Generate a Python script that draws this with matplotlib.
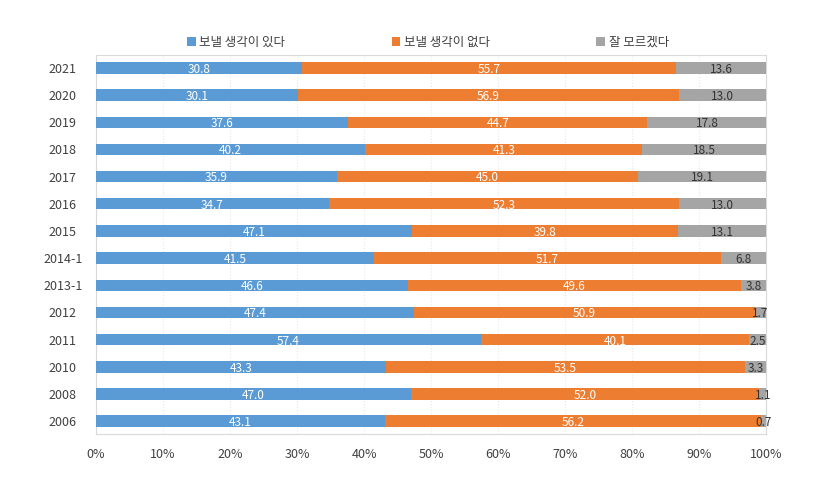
import numpy as np
import matplotlib
matplotlib.use("Agg")
import matplotlib.pyplot as plt
from matplotlib.patches import Patch

plt.rcParams['font.family'] = ['Noto Sans CJK KR', 'DejaVu Sans']

years = ["2021", "2020", "2019", "2018", "2017", "2016", "2015",
         "2014-1", "2013-1", "2012", "2011", "2010", "2008", "2006"]
yes_vals = [30.8, 30.1, 37.6, 40.2, 35.9, 34.7, 47.1, 41.5, 46.6, 47.4, 57.4, 43.3, 47.0, 43.1]
no_vals = [55.7, 56.9, 44.7, 41.3, 45.0, 52.3, 39.8, 51.7, 49.6, 50.9, 40.1, 53.5, 52.0, 56.2]
dk_vals = [13.6, 13.0, 17.8, 18.5, 19.1, 13.0, 13.1, 6.8, 3.8, 1.7, 2.5, 3.3, 1.1, 0.7]

series = [("보낼 생각이 있다", yes_vals, "#5B9BD5", "white"),
          ("보낼 생각이 없다", no_vals, "#ED7D31", "white"),
          ("잘 모르겠다", dk_vals, "#A5A5A5", "#333333")]

fig = plt.figure(figsize=(8.15, 4.79), dpi=100)
ax = fig.add_axes([0.1178, 0.094, 0.8222, 0.791])

y = np.arange(len(years))
left = np.zeros(len(years))
handles = []
for name, vals, color, tcolor in series:
    vals = np.array(vals)
    ax.barh(y, vals, left=left, height=0.42, color=color, zorder=3)
    for yi, (l, v) in enumerate(zip(left, vals)):
        ax.text(l + v / 2, yi + 0.05, f"{v:.1f}", ha="center", va="center",
                color=tcolor, fontsize=8.5, zorder=4)
    left += vals
    handles.append(Patch(facecolor=color, label=name))

ax.set_xlim(0, 100)
ax.set_ylim(len(years) - 0.53, -0.47)
ax.set_yticks(y)
ax.set_yticklabels(years, fontsize=9, color="#404040", ha="center")
ax.set_xticks(np.arange(0, 101, 10))
ax.set_xticklabels([f"{t}%" for t in range(0, 101, 10)], fontsize=9, color="#404040")
ax.tick_params(length=0, pad=10)
ax.tick_params(axis="y", pad=24)
ax.grid(axis="x", color="#E8E8E8", linestyle=":", linewidth=0.8, zorder=0)
for s in ax.spines.values():
    s.set_color("#D9D9D9")
    s.set_linewidth(0.8)

fig.legend(handles=handles, loc="center", bbox_to_anchor=(0.525, 0.912), ncol=3,
           frameon=False, fontsize=9, handlelength=0.7, handleheight=0.7,
           handletextpad=0.3, columnspacing=8.5, labelcolor="#404040")

fig.savefig("out.png", dpi=100)
